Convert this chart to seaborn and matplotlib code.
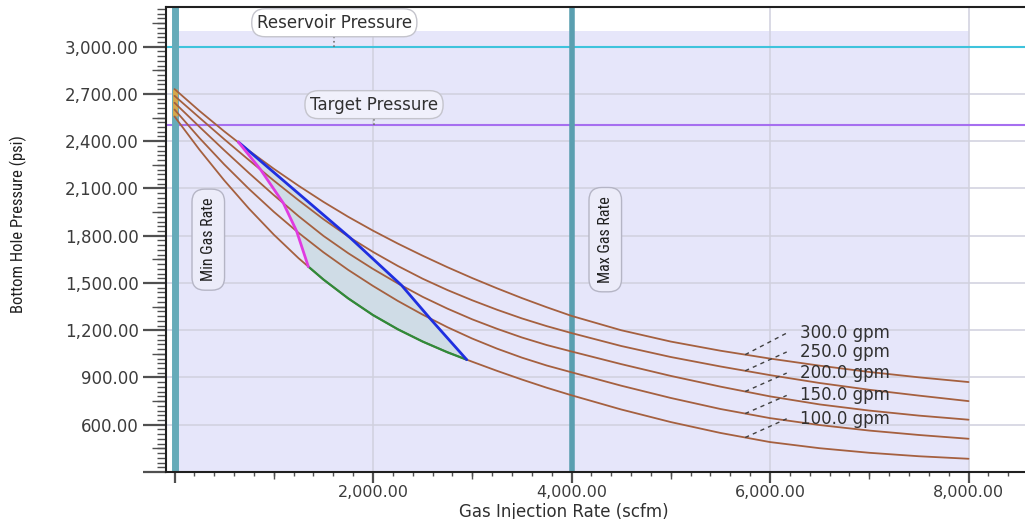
import seaborn as sns
import pandas as pd
import matplotlib
import matplotlib.pyplot as plt
import numpy as np
from matplotlib import font_manager
from matplotlib.ticker import MultipleLocator, FixedLocator, FuncFormatter
matplotlib.use('Agg')

################################################################
# data

rate = [0, 250, 500, 750, 1000, 1250, 1500, 1750, 2000, 2250, 2500, 2750,
        3000, 3250, 3500, 3750, 4000, 4500, 5000, 5500, 6000, 6500, 7000, 7500, 8000]
flows = ["100.0 gpm", "150.0 gpm", "200.0 gpm", "250.0 gpm", "300.0 gpm"]
bhp_100 = [2557, 2347, 2152, 1972, 1807, 1657, 1522, 1402, 1296, 1206, 1128, 1060,
           1000, 942, 887, 835, 787, 697, 617, 548, 490, 451, 422, 400, 384]
bhp_150 = [2601, 2421, 2253, 2097, 1952, 1818, 1695, 1583, 1481, 1386, 1299, 1219,
           1147, 1083, 1026, 976, 933, 848, 770, 700, 642, 598, 563, 535, 511]
bhp_200 = [2644, 2492, 2343, 2198, 2058, 1924, 1799, 1689, 1589, 1497, 1412, 1337,
           1269, 1209, 1154, 1106, 1065, 985, 910, 842, 780, 729, 690, 658, 632]
bhp_250 = [2688, 2550, 2413, 2280, 2150, 2025, 1905, 1795, 1697, 1608, 1527, 1455,
           1390, 1330, 1275, 1226, 1182, 1100, 1030, 970, 915, 865, 822, 785, 750]
bhp_300 = [2731, 2593, 2463, 2340, 2225, 2117, 2015, 1920, 1832, 1750, 1673, 1600,
           1531, 1466, 1404, 1346, 1291, 1200, 1128, 1070, 1020, 975, 935, 901, 871]

# operating envelope
blue_rate = [643, 1768, 2289, 2574, 2944]
blue_bhp = [2395, 1788, 1484, 1275, 1013]
mag_rate = [643, 869, 1098, 1230, 1348]
mag_bhp = [2395, 2218, 2005, 1829, 1604]

reservoir_p = 3000
target_p = 2500
min_gas = 0
max_gas = 4000

################################################################

sns.set_theme(style="white")
plt.rcParams['font.family'] = ['DejaVu Sans']
avail = {f.name for f in font_manager.fontManager.ttflist}
narrow = 'DejaVu Sans'
for cand in ['Liberation Sans Narrow', 'Roboto Condensed', 'Open Sans Condensed']:
    if cand in avail:
        narrow = cand
        break

curves = [bhp_100, bhp_150, bhp_200, bhp_250, bhp_300]
rows = []
for name, vals in zip(flows, curves):
    for r, p in zip(rate, vals):
        rows.append({"rate": r, "bhp": p, "flow": name})
df = pd.DataFrame(rows)

fig = plt.figure(figsize=(10.25, 5.19), dpi=100)
ax = fig.add_axes([166/1025, 1-472/519, (1025-166)/1025, (472-7)/519])
ax.set_xlim(-86, 8569)
ax.set_ylim(300, 3252)

# lavender operating area
ax.fill_between([0, 8000], 300, 3100, color='#e6e6fa', lw=0, zorder=0.1)
ax.set_axisbelow(True)
ax.grid(True, which='major', color='#d0d0de', lw=1.1)

ax.axhline(reservoir_p, color='#3ec3dc', lw=1.5, zorder=2)
ax.axhline(target_p, color='#a66ff0', lw=1.5, zorder=2)
ax.axvline(min_gas, color='#66abb9', lw=5, zorder=2)
ax.axvline(max_gas, color='#5a9fb0', lw=4, zorder=2)

starts = [c[0] for c in curves]
ax.vlines(min_gas, min(starts), max(starts), color='#d6a84a', lw=3.5, zorder=3)

# envelope polygon
inside = [(r, p) for r, p in zip(rate, bhp_100) if mag_rate[-1] < r < blue_rate[-1]]
green_rate = [mag_rate[-1]] + [r for r, p in inside] + [blue_rate[-1]]
green_bhp = [mag_bhp[-1]] + [p for r, p in inside] + [blue_bhp[-1]]
poly_x = mag_rate + green_rate[1:] + blue_rate[::-1][1:]
poly_y = mag_bhp + green_bhp[1:] + blue_bhp[::-1][1:]
ax.fill(poly_x, poly_y, color='#cfdce6', lw=0, zorder=3)

sns.lineplot(data=df, x="rate", y="bhp", units="flow", estimator=None,
             color='#a5603f', lw=1.3, ax=ax, zorder=4, sort=False)
ax.plot(green_rate, green_bhp, color='#2e8b3a', lw=1.6, zorder=5)
ax.plot(blue_rate, blue_bhp, color='#1f2fe0', lw=2, zorder=5)
ax.plot(mag_rate, mag_bhp, color='#e03be0', lw=2, zorder=5)

# curve labels with dashed leaders
label_y = [638, 786, 928, 1062, 1182]
for name, vals, ly in zip(flows, curves, label_y):
    y0 = np.interp(5750, rate, vals)
    ax.plot([5750, 6168], [y0, ly], ls=(0, (3, 3)), color='#404040', lw=1, zorder=6)
    ax.text(6300, ly, name, fontsize=12, color='#303030', va='center', ha='left', zorder=7)

# pressure tags
ax.plot([1610, 1610], [reservoir_p, 3092], ls=':', color='#707070', lw=1.2, zorder=6)
ax.text(1610, 3152, "Reservoir Pressure", fontsize=12, color='#303030', ha='center', va='center', zorder=7,
        bbox=dict(boxstyle='round,pad=0.3,rounding_size=0.8', fc='white', ec='#c4c4cc', lw=1))
ax.plot([2010, 2010], [target_p, 2570], ls=':', color='#707070', lw=1.2, zorder=6)
ax.text(2010, 2632, "Target Pressure", fontsize=12, color='#303030', ha='center', va='center', zorder=7,
        bbox=dict(boxstyle='round,pad=0.3,rounding_size=0.8', fc='#f0f0fb', ec='#c4c4cc', lw=1))

for xv, txt in [(min_gas, "Min Gas Rate"), (max_gas, "Max Gas Rate")]:
    ax.text(xv + 340, 1775, txt, rotation=90, family=narrow, fontsize=11.5, color='#202020',
            ha='center', va='center', zorder=7,
            bbox=dict(boxstyle='round,pad=0.55,rounding_size=0.8', fc='#ececf9', ec='#b5b5c5', lw=1))

################################################################
# axes styling
for s in ['left', 'bottom', 'top']:
    ax.spines[s].set_color('#202020')
    ax.spines[s].set_linewidth(1.5)
ax.spines['right'].set_visible(False)

fmt = FuncFormatter(lambda v, p: '' if v in (0, 300) else f'{v:,.2f}')
ax.xaxis.set_major_locator(MultipleLocator(2000))
ax.xaxis.set_minor_locator(MultipleLocator(200))
ax.yaxis.set_major_locator(MultipleLocator(300))
ax.yaxis.set_minor_locator(MultipleLocator(30))
ax.xaxis.set_major_formatter(fmt)
ax.yaxis.set_major_formatter(fmt)
ax.tick_params(axis='x', which='major', length=8, width=1.6, color='#505050',
               labelsize=11.5, labelcolor='#3c3c3c', pad=1.5, bottom=True)
ax.tick_params(axis='x', which='minor', length=2.7, width=1, color='#505050', bottom=True)
ax.tick_params(axis='y', which='major', length=16.5, width=1.6, color='#505050',
               labelsize=12, labelcolor='#3c3c3c', pad=3, left=True)
ax.tick_params(axis='y', which='minor', length=6.5, width=1, color='#505050', left=True)

secx = ax.secondary_xaxis('bottom')
secx.xaxis.set_major_locator(FixedLocator([1000, 3000, 5000, 7000]))
secx.tick_params(length=4.8, width=1, color='#505050', labelbottom=False)
secx.spines['bottom'].set_visible(False)
secy = ax.secondary_yaxis('left')
secy.yaxis.set_major_locator(FixedLocator(np.arange(450, 3252, 300)))
secy.tick_params(length=10, width=1, color='#505050', labelleft=False)
secy.spines['left'].set_visible(False)

ax.set_xlabel("Gas Injection Rate (scfm)", fontsize=12, color='#303030')
ax.xaxis.set_label_coords((563.5-166)/859, -0.066)
ax.set_ylabel("Bottom Hole Pressure (psi)", fontsize=12, color='#202020', family=narrow)
ax.yaxis.set_label_coords(-0.162, 0.533)

fig.savefig("out.png", dpi=100)
